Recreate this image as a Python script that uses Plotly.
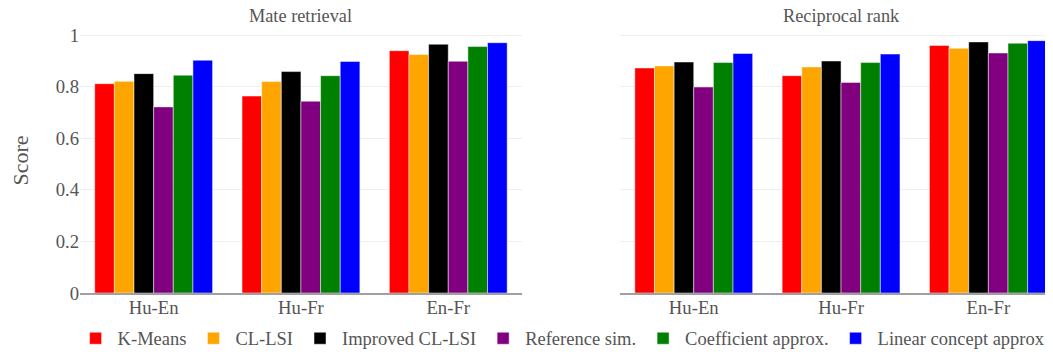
import plotly.graph_objects as go
from plotly.subplots import make_subplots

categories = ["Hu-En", "Hu-Fr", "En-Fr"]
methods = ["K-Means", "CL-LSI", "Improved CL-LSI", "Reference sim.",
           "Coefficient approx.", "Linear concept approx."]
colors = ["red", "orange", "black", "purple", "green", "blue"]

mate_kmeans = [0.812, 0.764, 0.940]
mate_cllsi = [0.821, 0.820, 0.925]
mate_improved = [0.851, 0.859, 0.965]
mate_refsim = [0.722, 0.744, 0.899]
mate_coef = [0.845, 0.843, 0.956]
mate_linear = [0.903, 0.898, 0.971]

rr_kmeans = [0.873, 0.843, 0.960]
rr_cllsi = [0.881, 0.877, 0.949]
rr_improved = [0.896, 0.900, 0.974]
rr_refsim = [0.799, 0.817, 0.931]
rr_coef = [0.894, 0.894, 0.969]
rr_linear = [0.929, 0.927, 0.979]

mate = [mate_kmeans, mate_cllsi, mate_improved, mate_refsim, mate_coef, mate_linear]
rr = [rr_kmeans, rr_cllsi, rr_improved, rr_refsim, rr_coef, rr_linear]

subplot_titles = ["Mate retrieval", "Reciprocal rank"]

fig = make_subplots(rows=1, cols=2, shared_yaxes=True,
                    subplot_titles=subplot_titles, horizontal_spacing=0.1)

for i, (m, c) in enumerate(zip(methods, colors)):
    fig.add_trace(go.Bar(x=categories, y=mate[i], name=m, marker_color=c,
                         marker_line=dict(color="rgba(255,255,255,0.6)", width=0.8),
                         legendgroup=m), row=1, col=1)
    fig.add_trace(go.Bar(x=categories, y=rr[i], name=m, marker_color=c,
                         marker_line=dict(color="rgba(255,255,255,0.6)", width=0.8),
                         legendgroup=m, showlegend=False), row=1, col=2)

font_family = "Liberation Serif"
text_color = "#555555"

fig.update_layout(
    width=1054, height=346,
    margin=dict(l=72, r=0, t=20, b=61, autoexpand=False),
    paper_bgcolor="white", plot_bgcolor="white",
    font=dict(family=font_family, size=18.7, color=text_color),
    barmode="group", bargap=0.2, bargroupgap=0,
    legend=dict(orientation="h", x=-0.0065, xanchor="left",
                y=-0.1725, yanchor="middle", itemwidth=34,
                font=dict(family=font_family, size=18.5, color=text_color)),
    showlegend=True,
)

fig.update_xaxes(showline=True, linecolor="#a0a0a0", linewidth=2,
                 showgrid=False, ticks="", tickfont=dict(size=18.7),
                 range=[-0.5, 2.5], ticklabelstandoff=-3)
fig.update_yaxes(range=[0, 1.028], showgrid=True, gridcolor="#efefef",
                 gridwidth=1, zeroline=False, ticks="",
                 tickvals=[0, 0.2, 0.4, 0.6, 0.8, 1],
                 ticktext=["0", "0.2", "0.4", "0.6", "0.8", "1"],
                 tickfont=dict(size=18.7))
fig.update_yaxes(title_text="Score", title_font=dict(size=22),
                 title_standoff=36, row=1, col=1)
fig.update_yaxes(showticklabels=False, row=1, col=2)

for ann in fig.layout.annotations:
    ann.font = dict(family=font_family, size=18.3, color=text_color)

fig.write_html("out.html")
